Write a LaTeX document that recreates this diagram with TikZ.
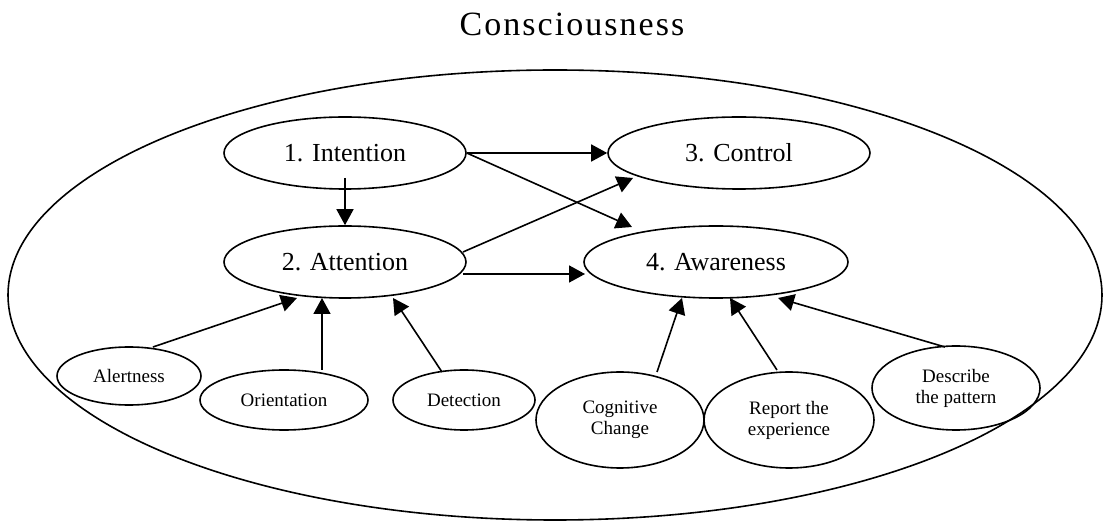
\documentclass[tikz,border=0pt]{standalone}
\usepackage{fontspec}
\setmainfont{Liberation Serif}
\usetikzlibrary{shapes.geometric,arrows.meta,calc}
\tikzset{
  stage/.style = {ellipse, draw, line width=0.8pt, inner sep=0pt,
    minimum width=121pt, minimum height=36pt, font=\fontsize{13}{15}\selectfont},
  facet/.style = {ellipse, draw, line width=0.8pt, inner sep=0pt, align=center,
    font=\fontsize{9.5}{10.5}\selectfont},
  arrow/.style = {line width=0.8pt, -{Triangle[length=8pt,width=8.5pt]}}
}
\begin{document}
\begin{tikzpicture}[x=0.5pt, y=-0.5pt]
\useasboundingbox (0,0) rectangle (1104,523);

% title and the outer field
\node[font=\fontsize{17}{20}\selectfont\addfontfeatures{LetterSpace=6}] (title) at (572,24) {Consciousness};
\node[ellipse, draw, line width=0.8pt, minimum width=547pt, minimum height=225pt] (mind) at (555,295) {};

% the four stages
\node[stage] (intention) at (345,153) {1. Intention};
\node[stage, minimum width=131pt] (control) at (739,153) {3. Control};
\node[stage] (attention) at (345,262) {2. Attention};
\node[stage, minimum width=132pt] (awareness) at (716,262) {4. Awareness};

% facets feeding attention and awareness
\node[facet, minimum width=72pt, minimum height=29pt] (alertness) at (129,376) {Alertness};
\node[facet, minimum width=84pt, minimum height=30pt] (orientation) at (284,400) {Orientation};
\node[facet, minimum width=71pt, minimum height=30pt] (detection) at (464,400) {Detection};
\node[facet, minimum width=84pt, minimum height=48pt] (cognitive) at (620,420) {Cognitive\\Change};
\node[facet, minimum width=85pt, minimum height=48pt] (report) at (789,420) {Report the\\experience};
\node[facet, minimum width=84pt, minimum height=42pt] (describe) at (956,388) {Describe\\the pattern};

\draw[arrow] (intention.east) -- (control.west);
\draw[arrow] (intention.east) -- ($(awareness)+(-84,-35)$);
\draw[arrow] ($(intention)+(0,25)$) -- (attention.north);
\draw[arrow] ($(attention)+(118,-10)$) -- ($(control)+(-106,25)$);
\draw[arrow] ($(attention)+(118,12)$) -- ($(awareness)+(-131,12)$);

\draw[arrow] ($(alertness)+(24,-29)$) -- ($(attention)+(-48,36)$);
\draw[arrow] ($(orientation)+(38,-30)$) -- ($(attention)+(-23,36)$);
\draw[arrow] ($(detection)+(-22,-28)$) -- ($(attention)+(48,36)$);

\draw[arrow] ($(cognitive)+(37,-48)$) -- ($(awareness)+(-34,36)$);
\draw[arrow] ($(report)+(-12,-50)$) -- ($(awareness)+(14,36)$);
\draw[arrow] ($(describe)+(-11,-41)$) -- ($(awareness)+(62,36)$);

\end{tikzpicture}
\end{document}
